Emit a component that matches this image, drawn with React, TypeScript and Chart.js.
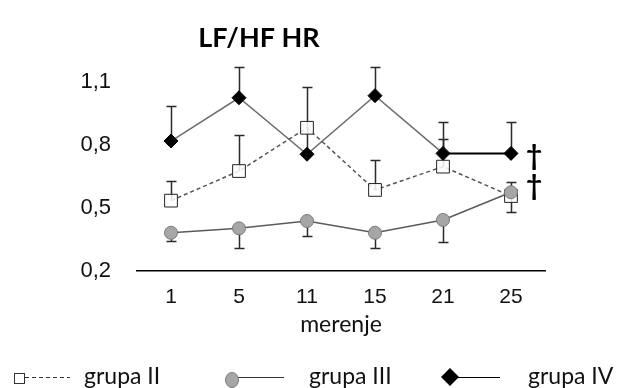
import React, { useEffect, useRef } from 'react';
import { Chart, registerables } from 'chart.js';

Chart.register(...registerables);

// ---- data ----
const categories = ['1', '5', '11', '15', '21', '25'];
const seriesNames = ['grupa II', 'grupa III', 'grupa IV'];

const grupaII = [0.535, 0.676, 0.882, 0.586, 0.697, 0.557];
const grupaIIErrEnd = [0.63, 0.85, null, 0.73, 0.83, 0.483];

const grupaIII = [0.382, 0.403, 0.438, 0.382, 0.443, 0.575];
const grupaIIIErrEnd = [0.343, 0.311, 0.367, 0.311, 0.336, 0.625];

const grupaIV = [0.819, 1.025, 0.756, 1.035, 0.76, 0.76];
const grupaIVErrEnd = [0.986, 1.173, 1.076, 1.17, 0.911, 0.911];

const yTickValues = [0.2, 0.5, 0.8, 1.1];
const yTickLabels = ['0,2', '0,5', '0,8', '1,1'];

const titleText = 'LF/HF HR';
const xAxisTitle = 'merenje';
const daggerMark = '\u2020';

const errorBarPlugin = {
  id: 'errorBars',
  beforeDatasetsDraw(chart: any) {
    const { ctx, scales } = chart;
    const x = scales.x;
    const y = scales.y;
    const sets: [number[], (number | null)[]][] = [
      [grupaII, grupaIIErrEnd],
      [grupaIII, grupaIIIErrEnd],
      [grupaIV, grupaIVErrEnd],
    ];
    ctx.save();
    ctx.strokeStyle = '#2a2a2a';
    ctx.lineWidth = 1.5;
    sets.forEach(([vals, ends]) => {
      vals.forEach((v, i) => {
        const e = ends[i];
        if (e == null) return;
        const px = Math.round(x.getPixelForValue(i)) + 0.5;
        const py = y.getPixelForValue(v);
        const pe = Math.round(y.getPixelForValue(e)) + 0.5;
        ctx.beginPath();
        ctx.moveTo(px, py);
        ctx.lineTo(px, pe);
        ctx.moveTo(px - 5, pe);
        ctx.lineTo(px + 5, pe);
        ctx.stroke();
      });
    });
    ctx.restore();
  },
};

const decorPlugin = {
  id: 'decor',
  afterDraw(chart: any) {
    const { ctx, scales, chartArea } = chart;
    const x = scales.x;
    const y = scales.y;
    ctx.save();
    // title
    ctx.fillStyle = '#000';
    ctx.font = 'bold 27px Lato';
    ctx.textAlign = 'center';
    ctx.textBaseline = 'middle';
    ctx.fillText(titleText, 259, 38);

    // x axis title
    ctx.fillStyle = '#111';
    ctx.font = '23px Lato';
    ctx.fillText(xAxisTitle, (chartArea.left + chartArea.right) / 2, 325);

    // daggers
    const last = categories.length - 1;
    const dx = x.getPixelForValue(last) + 23;
    ctx.fillStyle = '#000';
    ctx.font = 'bold 28px Lato';
    ctx.fillText(daggerMark, dx, y.getPixelForValue(grupaIV[last]) + 3);
    ctx.fillText(daggerMark, dx, y.getPixelForValue(grupaII[last]) - 10);

    // legend
    const ly = 377;
    ctx.textAlign = 'left';
    ctx.font = '23px Lato';
    // grupa II
    ctx.strokeStyle = '#333';
    ctx.lineWidth = 1;
    ctx.fillStyle = '#fff';
    ctx.fillRect(14.5, ly - 3.5, 10, 10);
    ctx.strokeRect(14.5, ly - 3.5, 10, 10);
    ctx.setLineDash([4, 3]);
    ctx.beginPath();
    ctx.moveTo(25, ly + 0.5);
    ctx.lineTo(70, ly + 0.5);
    ctx.stroke();
    ctx.setLineDash([]);
    ctx.fillStyle = '#111';
    ctx.fillText(seriesNames[0], 84, ly);
    // grupa III
    ctx.beginPath();
    ctx.moveTo(232, ly + 0.5);
    ctx.lineTo(284, ly + 0.5);
    ctx.strokeStyle = '#333';
    ctx.lineWidth = 1.2;
    ctx.stroke();
    ctx.beginPath();
    ctx.ellipse(232, ly + 3, 6.5, 7.5, 0, 0, Math.PI * 2);
    ctx.fillStyle = '#a6a6a6';
    ctx.fill();
    ctx.strokeStyle = '#7a7a7a';
    ctx.lineWidth = 1;
    ctx.stroke();
    ctx.fillStyle = '#111';
    ctx.fillText(seriesNames[1], 309, ly);
    // grupa IV
    ctx.beginPath();
    ctx.moveTo(450, ly + 0.5);
    ctx.lineTo(500, ly + 0.5);
    ctx.strokeStyle = '#000';
    ctx.lineWidth = 1.2;
    ctx.stroke();
    ctx.beginPath();
    ctx.moveTo(450 - 9, ly);
    ctx.lineTo(450, ly - 9);
    ctx.lineTo(450 + 9, ly);
    ctx.lineTo(450, ly + 9);
    ctx.closePath();
    ctx.fillStyle = '#000';
    ctx.fill();
    ctx.fillStyle = '#111';
    ctx.fillText(seriesNames[2], 528, ly);
    ctx.restore();
  },
};

export default function App() {
  const ref = useRef<HTMLCanvasElement>(null);
  useEffect(() => {
    document.body.style.margin = '0';
    const chart = new Chart(ref.current as HTMLCanvasElement, {
      type: 'line',
      data: {
        labels: categories,
        datasets: [
          {
            label: seriesNames[1],
            data: grupaIII,
            borderColor: '#5a5a5a',
            borderWidth: 1.5,
            pointStyle: 'circle',
            pointRadius: 6.5,
            pointBackgroundColor: '#a6a6a6',
            pointBorderColor: '#7a7a7a',
            pointBorderWidth: 1,
            clip: false,
          },
          {
            label: seriesNames[0],
            data: grupaII,
            borderColor: '#555',
            borderWidth: 1.5,
            borderDash: [4, 3],
            pointStyle: 'rect',
            pointRadius: 9,
            pointBackgroundColor: 'rgba(255,255,255,0.85)',
            pointBorderColor: '#222',
            pointBorderWidth: 1,
            clip: false,
          },
          {
            label: seriesNames[2],
            data: grupaIV,
            borderColor: '#6d6d6d',
            borderWidth: 1.5,
            segment: {
              borderColor: (c: any) => (c.p0DataIndex === 4 ? '#000' : '#6d6d6d'),
              borderWidth: (c: any) => (c.p0DataIndex === 4 ? 2 : 1.5),
            },
            pointStyle: 'rectRot',
            pointRadius: 7,
            pointBackgroundColor: '#000',
            pointBorderColor: '#000',
            pointBorderWidth: 1,
            clip: false,
          },
        ],
      },
      options: {
        responsive: false,
        animation: false,
        devicePixelRatio: 1,
        layout: { padding: { left: 0, right: 98, top: 82, bottom: 67 } },
        plugins: {
          legend: { display: false },
          title: { display: false },
          tooltip: { enabled: false },
        },
        scales: {
          x: {
            type: 'category',
            offset: true,
            grid: { display: false, drawTicks: false },
            border: { display: true, color: '#000', width: 1.5 },
            ticks: {
              color: '#111',
              font: { family: 'Liberation Sans', size: 21 },
              padding: 14,
              maxRotation: 0,
            },
            afterFit: (s: any) => {
              s.height = 50;
            },
          },
          y: {
            min: 0.2,
            max: 1.1,
            grid: { display: false, drawTicks: false },
            border: { display: false },
            afterBuildTicks: (s: any) => {
              s.ticks = yTickValues.map((v) => ({ value: v }));
            },
            ticks: {
              color: '#111',
              font: { family: 'Liberation Sans', size: 22 },
              padding: 26,
              callback: (_v: any, i: number) => yTickLabels[i],
            },
            afterFit: (s: any) => {
              s.width = 137;
            },
          },
        },
      },
      plugins: [errorBarPlugin, decorPlugin],
    });
    return () => chart.destroy();
  }, []);
  return (
    <div style={{ width: 643, height: 388 }}>
      <canvas ref={ref} width={643} height={388} style={{ display: 'block' }} />
    </div>
  );
}
